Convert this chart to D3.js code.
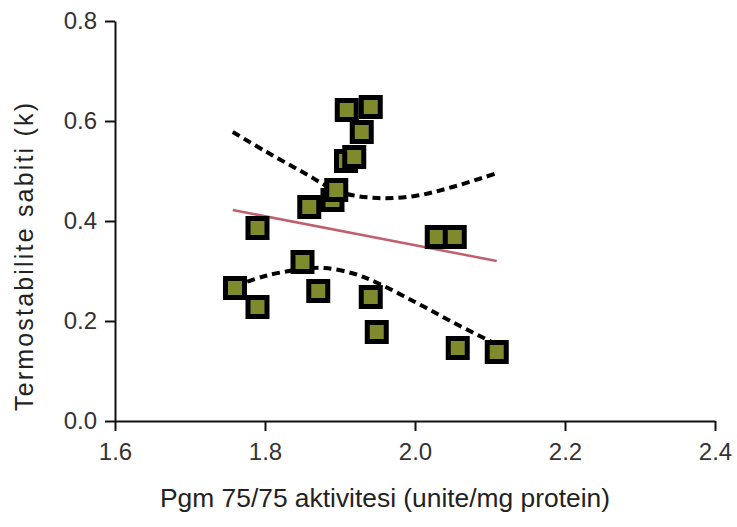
<!DOCTYPE html>
<html>
<head>
<meta charset="utf-8">
<script src="https://cdn.jsdelivr.net/npm/d3@7"></script>
<style>
  html, body { margin: 0; padding: 0; background: #fff; }
  svg { display: block; }
</style>
</head>
<body>
<svg id="chart" width="737" height="527"></svg>
<script>
// Measured samples: Pgm 75/75 activity vs. thermostability constant
const activity = [1.760, 1.790, 1.790, 1.850, 1.859, 1.871, 1.890, 1.895, 1.908, 1.919,
                  1.929, 1.909, 1.941, 1.941, 1.949, 2.029, 2.053, 2.057, 2.109];
const stability = [0.266, 0.386, 0.228, 0.318, 0.428, 0.260, 0.442, 0.462, 0.520, 0.528,
                   0.578, 0.622, 0.628, 0.248, 0.178, 0.368, 0.368, 0.146, 0.138];

// Linear fit (end points)
const fitX = [1.757, 2.109];
const fitY = [0.422, 0.320];

// Confidence band, upper and lower limits
const upperX = [1.757, 1.800, 1.850, 1.900, 1.950, 2.000, 2.050, 2.110];
const upperY = [0.578, 0.540, 0.498, 0.458, 0.446, 0.450, 0.468, 0.496];
const lowerX = [1.760, 1.800, 1.850, 1.880, 1.920, 1.950, 2.000, 2.050, 2.110];
const lowerY = [0.270, 0.290, 0.304, 0.306, 0.294, 0.276, 0.238, 0.198, 0.152];

const xTicks = [1.6, 1.8, 2.0, 2.2, 2.4];
const yTicks = [0.0, 0.2, 0.4, 0.6, 0.8];

const svg = d3.select("#chart");
const x = d3.scaleLinear().domain([1.6, 2.4]).range([115, 715]);
const y = d3.scaleLinear().domain([0, 0.8]).range([421, 21]);

const sans = "'Liberation Sans', Arial, sans-serif";

// Axes
const xAxis = svg.append("g")
  .attr("transform", `translate(0,${y(0)})`)
  .call(d3.axisBottom(x).tickValues(xTicks).tickFormat(d3.format(".1f"))
        .tickSizeInner(10).tickSizeOuter(0).tickPadding(12));
const yAxis = svg.append("g")
  .attr("transform", `translate(${x(1.6)},0)`)
  .call(d3.axisLeft(y).tickValues(yTicks).tickFormat(d3.format(".1f"))
        .tickSizeInner(10).tickSizeOuter(0).tickPadding(8));

[xAxis, yAxis].forEach(g => {
  g.select(".domain").attr("stroke", "#111").attr("stroke-width", 2);
  g.selectAll(".tick line").attr("stroke", "#111").attr("stroke-width", 2);
  g.selectAll(".tick text")
    .attr("fill", "#333")
    .style("font-family", sans)
    .style("font-size", "24px");
});

// Axis titles
svg.append("text")
  .attr("x", 385).attr("y", 507)
  .attr("text-anchor", "middle")
  .attr("textLength", 450)
  .attr("lengthAdjust", "spacingAndGlyphs")
  .style("font-family", sans)
  .style("font-size", "25px")
  .attr("fill", "#222")
  .text("Pgm 75/75 aktivitesi (unite/mg protein)");

svg.append("text")
  .attr("transform", "translate(33,257) rotate(-90)")
  .attr("text-anchor", "middle")
  .attr("textLength", 308)
  .attr("lengthAdjust", "spacing")
  .style("font-family", sans)
  .style("font-size", "25px")
  .attr("fill", "#222")
  .text("Termostabilite sabiti (k)");

// Confidence band curves
const band = d3.line().x(d => x(d[0])).y(d => y(d[1])).curve(d3.curveCatmullRom);
[[upperX, upperY], [lowerX, lowerY]].forEach(([bx, by]) => {
  svg.append("path")
    .datum(bx.map((v, i) => [v, by[i]]))
    .attr("d", band)
    .attr("fill", "none")
    .attr("stroke", "#000")
    .attr("stroke-width", 4)
    .attr("stroke-dasharray", "8,5");
});

// Regression line
svg.append("path")
  .datum(fitX.map((v, i) => [v, fitY[i]]))
  .attr("d", d3.line().x(d => x(d[0])).y(d => y(d[1])))
  .attr("fill", "none")
  .attr("stroke", "#c0606e")
  .attr("stroke-width", 2.5);

// Sample markers
const size = 19;
svg.append("g").selectAll("rect")
  .data(activity.map((v, i) => [v, stability[i]]))
  .join("rect")
  .attr("x", d => x(d[0]) - size / 2)
  .attr("y", d => y(d[1]) - size / 2)
  .attr("width", size)
  .attr("height", size)
  .attr("fill", "#7e8a2c")
  .attr("stroke", "#000")
  .attr("stroke-width", 5);
</script>
</body>
</html>
